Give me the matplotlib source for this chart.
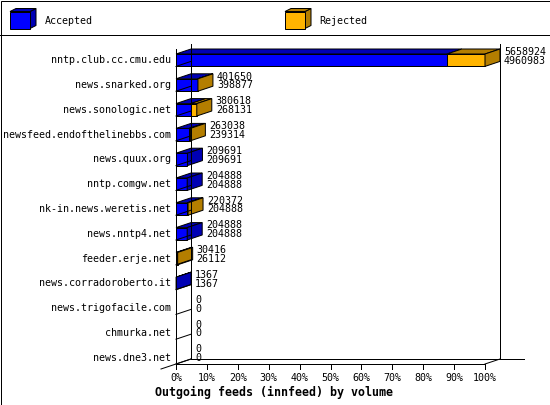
import matplotlib
matplotlib.use("Agg")
import matplotlib.pyplot as plt
from matplotlib.patches import Polygon, Rectangle
from matplotlib.lines import Line2D
from matplotlib.transforms import Affine2D

# ---- data ----
hosts = ["nntp.club.cc.cmu.edu", "news.snarked.org", "news.sonologic.net",
         "newsfeed.endofthelinebbs.com", "news.quux.org", "nntp.comgw.net",
         "nk-in.news.weretis.net", "news.nntp4.net", "feeder.erje.net",
         "news.corradoroberto.it", "news.trigofacile.com", "chmurka.net",
         "news.dne3.net"]
offered = [5658924, 401650, 380618, 263038, 209691, 204888, 220372, 204888,
           30416, 1367, 0, 0, 0]
accepted = [4960983, 398877, 268131, 239314, 209691, 204888, 204888, 204888,
            26112, 1367, 0, 0, 0]
series = ["Accepted", "Rejected"]
xticks = [0, 10, 20, 30, 40, 50, 60, 70, 80, 90, 100]
title = "Outgoing feeds (innfeed) by volume"

# ---- style ----
W, H = 550, 405
FONT = "DejaVu Sans Mono"
FS = 7.2
LW = 0.72
front = {"Accepted": "#0000FF", "Rejected": "#FFB400"}
dark = {"Accepted": "#0000B4", "Rejected": "#B47E00"}

fig = plt.figure(figsize=(W / 100, H / 100), dpi=100)
fig.patch.set_facecolor("white")

# plot area (front plane)
left_px, right_px = 176, 485
bottom_px, top_px = 364, 41.6
ax = fig.add_axes([left_px / W, (H - bottom_px) / H,
                   (right_px - left_px) / W, (bottom_px - top_px) / H])
n = len(hosts)
ax.set_xlim(0, 100)
ax.set_ylim(n - 0.5, -0.5)
ax.axis("off")

ppx = (right_px - left_px) / 100.0           # px per percent
ppy = (bottom_px - top_px) / n                # px per row
DX = 15 / ppx
DY = 5 / ppy

def pt(px):
    return px * 0.72

kw = dict(clip_on=False, color="black", lw=LW)
floor = n - 0.5
wall_top = -0.5 + 2.4 / ppy   # back wall top (as drawn)

# back wall / floor / left wall
ax.plot([DX, DX], [floor - DY, wall_top], **kw)
ax.plot([100 + DX, 100 + DX], [floor - DY, wall_top], **kw)
ax.plot([DX, 100 + DX + 24 / ppx], [floor - DY, floor - DY], **kw)
ax.plot([0, 100], [floor, floor], **kw)
ax.plot([100, 100 + DX], [floor, floor - DY], **kw)
ax.plot([-DX, DX], [floor + DY, floor - DY], **kw)
ax.plot([0, 0], [floor, wall_top + DY], **kw)
for i in range(n):
    yb = i + 0.5
    ax.plot([0, DX], [yb, yb - DY], **kw)

# ticks
for p in xticks:
    ax.plot([p, p], [floor, floor + 5 / ppy], **kw)
    ax.annotate(f"{p}%", xy=(p, floor), xytext=(0, -pt(14)),
                textcoords="offset points", ha="center", va="center",
                fontsize=FS, family=FONT, annotation_clip=False)

# bars
mx = max(offered)
for i in range(n):
    a = accepted[i] / mx * 100
    t = offered[i] / mx * 100
    y0, y1 = i, i + 0.5
    segs = [("Accepted", 0, a), ("Rejected", a, t)]
    last = None
    if t > 0:
        for name, s, e in segs:
            if e - s <= 0:
                continue
            last = name
            ax.add_patch(Rectangle((s, y0), e - s, y1 - y0, facecolor=front[name],
                                   edgecolor="black", lw=LW, clip_on=False))
            ax.add_patch(Polygon([(s, y0), (e, y0), (e + DX, y0 - DY), (s + DX, y0 - DY)],
                                 closed=True, facecolor=dark[name], edgecolor="black",
                                 lw=LW, clip_on=False))
        ax.add_patch(Polygon([(t, y0), (t, y1), (t + DX, y1 - DY), (t + DX, y0 - DY)],
                             closed=True, facecolor=dark[last], edgecolor="black",
                             lw=LW, clip_on=False))
    yc = i + 0.25
    ax.annotate(str(offered[i]), xy=(t + DX, yc), xytext=(pt(4), pt(8.5)),
                textcoords="offset points", ha="left", va="center",
                fontsize=FS, family=FONT, annotation_clip=False)
    ax.annotate(str(accepted[i]), xy=(t + DX, yc), xytext=(pt(4), -pt(0.5)),
                textcoords="offset points", ha="left", va="center",
                fontsize=FS, family=FONT, annotation_clip=False)
    ax.annotate(hosts[i], xy=(0, yc), xytext=(-pt(4.5), 0),
                textcoords="offset points", ha="right", va="center",
                fontsize=FS, family=FONT, annotation_clip=False)

# title
fig.text(274 / W, 1 - 392 / H, title, ha="center", va="center",
         fontsize=8.4, family=FONT, fontweight="bold")

# legend strip
tr = Affine2D().scale(1 / W, -1 / H).translate(0, 1) + fig.transFigure
fig.add_artist(Line2D([0, W], [35, 35], transform=tr, color="black", lw=LW))
for name, x0, tx in [("Accepted", 10, 45), ("Rejected", 285, 319)]:
    fx0, fx1, fy0, fy1, cdx, cdy = x0, x0 + 20, 11.5, 28.5, 6, 3
    fig.add_artist(Polygon([(fx1, fy0), (fx1 + cdx, fy0 - cdy), (fx1 + cdx, fy1 - cdy), (fx1, fy1)],
                           closed=True, facecolor=dark[name], edgecolor="black", lw=LW, transform=tr))
    fig.add_artist(Polygon([(fx0, fy0), (fx0 + cdx, fy0 - cdy), (fx1 + cdx, fy0 - cdy), (fx1, fy0)],
                           closed=True, facecolor=dark[name], edgecolor="black", lw=LW, transform=tr))
    fig.add_artist(Rectangle((fx0, fy0), fx1 - fx0, fy1 - fy0, facecolor=front[name],
                             edgecolor="black", lw=LW, transform=tr))
    fig.text(tx / W, 1 - 20.5 / H, name, ha="left", va="center", fontsize=FS, family=FONT)

# outer border
fig.add_artist(Rectangle((0.5, 0.5), W - 1, H - 1, transform=tr, fill=False,
                         edgecolor="black", lw=LW))

fig.savefig("out.png", dpi=100, facecolor="white")
